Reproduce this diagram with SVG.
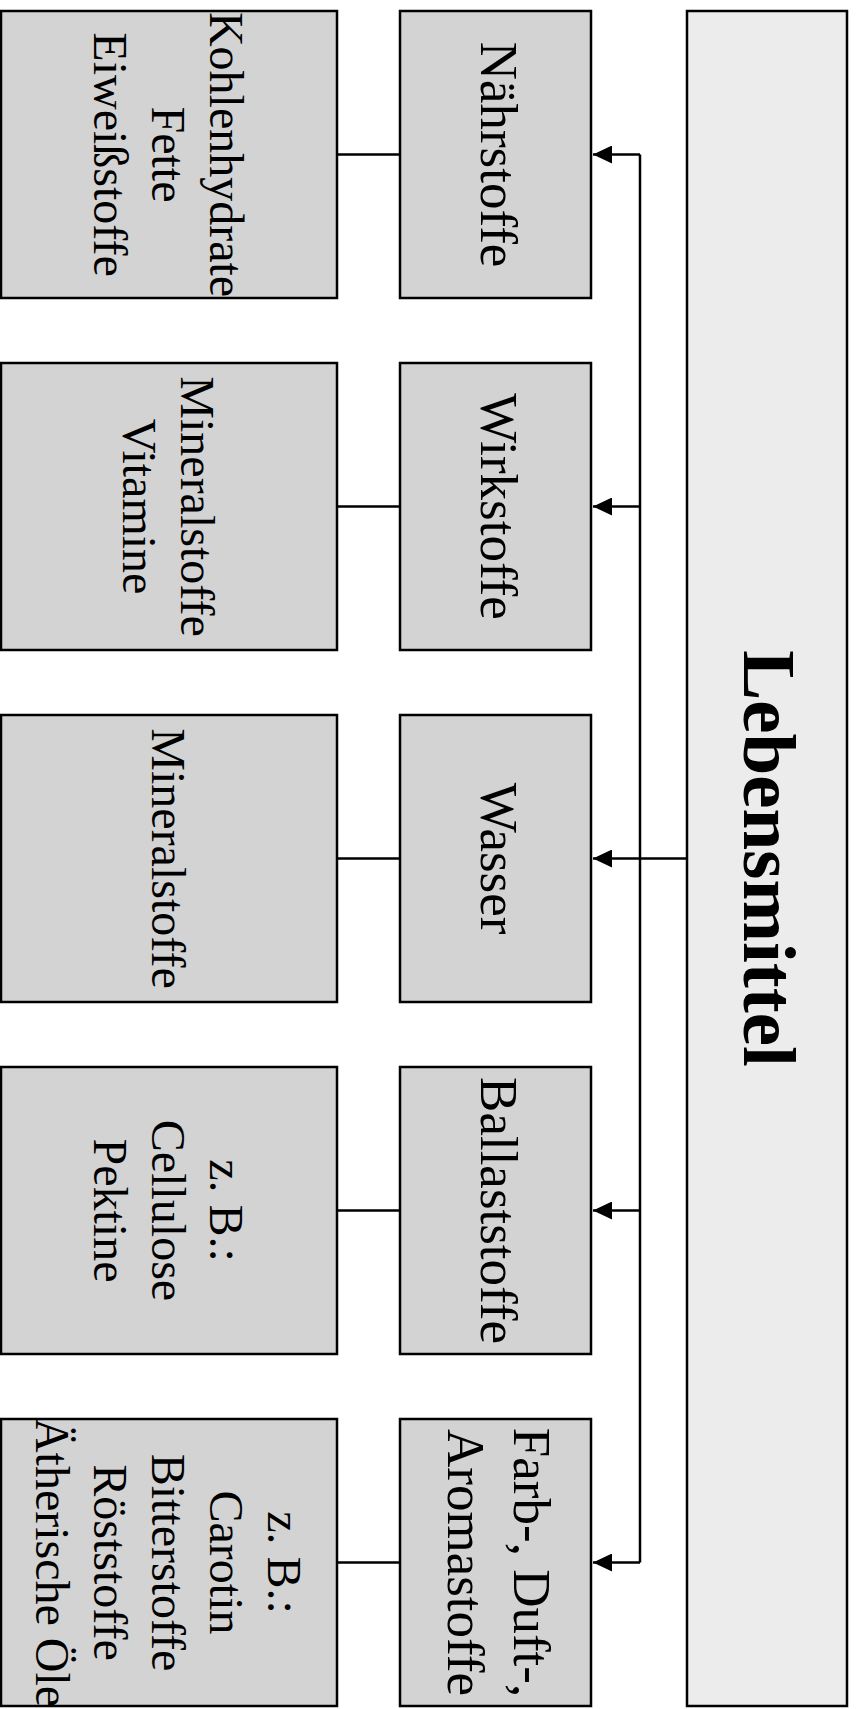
<svg xmlns="http://www.w3.org/2000/svg" width="856" height="1709" viewBox="0 0 856 1709">
<style>
.box{fill:#d3d3d3;stroke:#000;stroke-width:2.5}
.root{fill:#ececec;stroke:#000;stroke-width:2.5}
.t{font-family:"Liberation Serif","Times New Roman",serif;fill:#000;text-anchor:middle}
.m{font-size:53px}
.s{font-size:48px}
.b{font-size:75px;font-weight:bold}
.ln{fill:none;stroke:#000;stroke-width:2.5}
</style>
<defs>
<marker id="arr" viewBox="0 0 19 18" refX="19" refY="9" markerWidth="19" markerHeight="18" orient="auto" markerUnits="userSpaceOnUse">
<path d="M0,0 L19,9 L0,18 Z" fill="#000"/>
</marker>
</defs>
<g id="connectors">
<path class="ln" d="M640,154.5 V1562.5"/>
<path class="ln" d="M640,154.5 H593" marker-end="url(#arr)"/>
<path class="ln" d="M640,506.5 H593" marker-end="url(#arr)"/>
<path class="ln" d="M687,858.5 H593" marker-end="url(#arr)"/>
<path class="ln" d="M640,1210.5 H593" marker-end="url(#arr)"/>
<path class="ln" d="M640,1562.5 H593" marker-end="url(#arr)"/>
<path class="ln" d="M337,154.5 H400"/>
<path class="ln" d="M337,506.5 H400"/>
<path class="ln" d="M337,858.5 H400"/>
<path class="ln" d="M337,1210.5 H400"/>
<path class="ln" d="M337,1562.5 H400"/>
</g>
<g id="lebensmittel">
<rect class="root" x="687" y="11" width="160" height="1695"/>
<text class="t b" transform="translate(769,858.5) rotate(90)" x="0" y="25">Lebensmittel</text>
</g>
<g id="naehrstoffe">
<rect class="box" x="400" y="11" width="191" height="287"/>
<text class="t m" transform="translate(498,154.5) rotate(90)" x="0" y="17.5">Nährstoffe</text>
</g>
<g id="wirkstoffe">
<rect class="box" x="400" y="363" width="191" height="287"/>
<text class="t m" transform="translate(498,506.5) rotate(90)" x="0" y="17.5">Wirkstoffe</text>
</g>
<g id="wasser">
<rect class="box" x="400" y="715" width="191" height="287"/>
<text class="t m" transform="translate(498,858.5) rotate(90)" x="0" y="17.5">Wasser</text>
</g>
<g id="ballaststoffe">
<rect class="box" x="400" y="1067" width="191" height="287"/>
<text class="t m" transform="translate(498,1210.5) rotate(90)" x="0" y="17.5">Ballaststoffe</text>
</g>
<g id="farbstoffe">
<rect class="box" x="400" y="1419" width="191" height="287"/>
<text class="t m" transform="translate(498,1562.5) rotate(90)"><tspan x="0" y="-15.5">Farb-, Duft-,</tspan><tspan x="0" y="50.5">Aromastoffe</tspan></text>
</g>
<g id="detail-naehrstoffe">
<rect class="box" x="1" y="11" width="336" height="287"/>
<text class="t s" transform="translate(168,154.5) rotate(90)"><tspan x="0" y="-42">Kohlenhydrate</tspan><tspan x="0" y="16">Fette</tspan><tspan x="0" y="74">Eiweißstoffe</tspan></text>
</g>
<g id="detail-wirkstoffe">
<rect class="box" x="1" y="363" width="336" height="287"/>
<text class="t s" transform="translate(168,506.5) rotate(90)"><tspan x="0" y="-13">Mineralstoffe</tspan><tspan x="0" y="45">Vitamine</tspan></text>
</g>
<g id="detail-wasser">
<rect class="box" x="1" y="715" width="336" height="287"/>
<text class="t s" transform="translate(168,858.5) rotate(90)" x="0" y="16">Mineralstoffe</text>
</g>
<g id="detail-ballaststoffe">
<rect class="box" x="1" y="1067" width="336" height="287"/>
<text class="t s" transform="translate(168,1210.5) rotate(90)"><tspan x="0" y="-42">z. B.:</tspan><tspan x="0" y="16">Cellulose</tspan><tspan x="0" y="74">Pektine</tspan></text>
</g>
<g id="detail-farbstoffe">
<rect class="box" x="1" y="1419" width="336" height="287"/>
<text class="t s" transform="translate(168,1562.5) rotate(90)"><tspan x="0" y="-100">z. B.:</tspan><tspan x="0" y="-42">Carotin</tspan><tspan x="0" y="16">Bitterstoffe</tspan><tspan x="0" y="74">Röststoffe</tspan><tspan x="0" y="132">Ätherische Öle</tspan></text>
</g>
</svg>
